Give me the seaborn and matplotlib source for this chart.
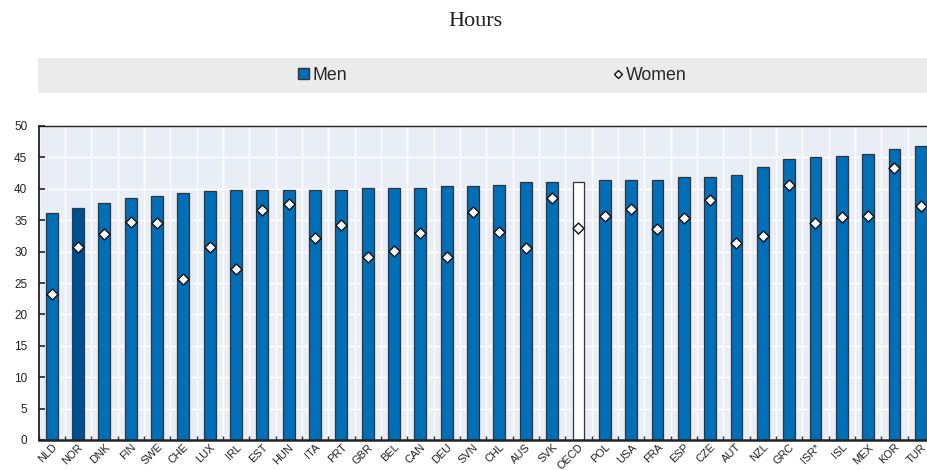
import matplotlib
matplotlib.use("Agg")
import matplotlib.pyplot as plt
import seaborn as sns
import numpy as np
import pandas as pd
from matplotlib.patches import Patch
from matplotlib.lines import Line2D
from matplotlib.ticker import FixedLocator

countries = ["NLD", "NOR", "DNK", "FIN", "SWE", "CHE", "LUX", "IRL", "EST", "HUN",
             "ITA", "PRT", "GBR", "BEL", "CAN", "DEU", "SVN", "CHL", "AUS", "SVK",
             "OECD", "POL", "USA", "FRA", "ESP", "CZE", "AUT", "NZL", "GRC", "ISR*",
             "ISL", "MEX", "KOR", "TUR"]
men = [36.2, 37.0, 37.8, 38.6, 38.9, 39.3, 39.6, 39.8, 39.8, 39.8,
       39.8, 39.8, 40.1, 40.1, 40.1, 40.4, 40.4, 40.6, 41.1, 41.1,
       41.1, 41.4, 41.4, 41.4, 41.9, 41.9, 42.2, 43.4, 44.7, 45.0,
       45.3, 45.6, 46.3, 46.8]
women = [23.2, 30.8, 32.8, 34.7, 34.5, 25.7, 30.8, 27.2, 36.6, 37.6,
         32.2, 34.3, 29.1, 30.1, 32.9, 29.2, 36.3, 33.1, 30.5, 38.5,
         33.7, 35.7, 36.8, 33.6, 35.4, 38.2, 31.4, 32.5, 40.6, 34.6,
         35.5, 35.7, 43.3, 37.3]
yticks = [0, 5, 10, 15, 20, 25, 30, 35, 40, 45, 50]
title = "Hours"
legend_labels = ["Men", "Women"]

BLUE = "#006fb9"
DARK = "#004f8c"
EDGE = "#333333"
BG = "#e9edf6"

sns.set_theme(style="white")
plt.rcParams["font.family"] = ["Liberation Sans", "DejaVu Sans"]

df = pd.DataFrame({"country": countries, "men": men, "women": women})
palette = {c: BLUE for c in countries}
palette["NOR"] = DARK
palette["OECD"] = "#ffffff"

fig = plt.figure(figsize=(9.28, 4.70), dpi=100)
ax = fig.add_axes([38.5 / 928, 30 / 470, (934 - 38.5) / 928, 314 / 470])
ax.set_facecolor(BG)

sns.barplot(data=df, x="country", y="men", hue="country", palette=palette,
            legend=False, width=0.45, saturation=1, edgecolor=EDGE,
            linewidth=0.9, ax=ax, zorder=2)
for patch, c in zip(ax.patches, countries):
    if c == "NOR":
        patch.set_edgecolor("#1d3f66")

sns.stripplot(data=df, x="country", y="women", jitter=False, marker="D",
              color="white", edgecolor="#111111", linewidth=1.0, size=5.6,
              ax=ax, zorder=4)

ax.set_xlim(-0.5, len(countries) - 0.5)
ax.set_ylim(0, 50)
ax.set_yticks(yticks)
ax.set_yticklabels([str(v) for v in yticks], fontsize=8.5, color="#222222")
ax.set_xticks(range(len(countries)))
ax.set_xticklabels(countries, rotation=45, ha="right", rotation_mode="anchor",
                   fontsize=7.9, color="#222222")
ax.xaxis.set_minor_locator(FixedLocator(np.arange(len(countries) + 1) - 0.5))
ax.tick_params(axis="x", which="major", length=0, pad=1.5)
ax.tick_params(axis="x", which="minor", direction="in", length=3, width=1,
               color="#333333", bottom=True)
ax.tick_params(axis="y", which="major", direction="in", length=4, width=1.2,
               color="#222222", left=True, pad=8)
ax.grid(False)
ax.grid(axis="y", which="major", color="white", linewidth=1.0, zorder=0)
ax.grid(axis="x", which="minor", color="white", linewidth=1.0, zorder=0)
ax.set_axisbelow(True)
ax.set_xlabel("")
ax.set_ylabel("")
for side in ["left", "bottom", "top"]:
    ax.spines[side].set_visible(True)
    ax.spines[side].set_color("#222222")
ax.spines["left"].set_linewidth(1.3)
ax.spines["bottom"].set_linewidth(1.8)
ax.spines["top"].set_linewidth(1.0)
ax.spines["right"].set_visible(False)

# Legend band
lax = fig.add_axes([38 / 928, (470 - 93) / 470, (928 - 38) / 928, 35 / 470])
lax.set_facecolor("#ebebeb")
lax.set_xticks([])
lax.set_yticks([])
for s in lax.spines.values():
    s.set_visible(False)
handles = [
    Patch(facecolor=BLUE, edgecolor=EDGE, linewidth=1.0),
    Line2D([], [], linestyle="none", marker="D", markersize=4.2,
           markerfacecolor="white", markeredgecolor="#111111", markeredgewidth=1.0),
]
lax.legend(handles, legend_labels, loc="center", bbox_to_anchor=(0.511, 0.5),
           ncol=2, frameon=False, fontsize=12.8, handlelength=0.6, handleheight=0.6,
           handletextpad=0.2, columnspacing=14.9, borderaxespad=0)

fig.text(475 / 928, 1 - 21 / 470, title, ha="center", va="center",
         fontsize=16, family=["Liberation Serif", "DejaVu Serif"], color="#222222")

fig.savefig("out.png", dpi=100)
